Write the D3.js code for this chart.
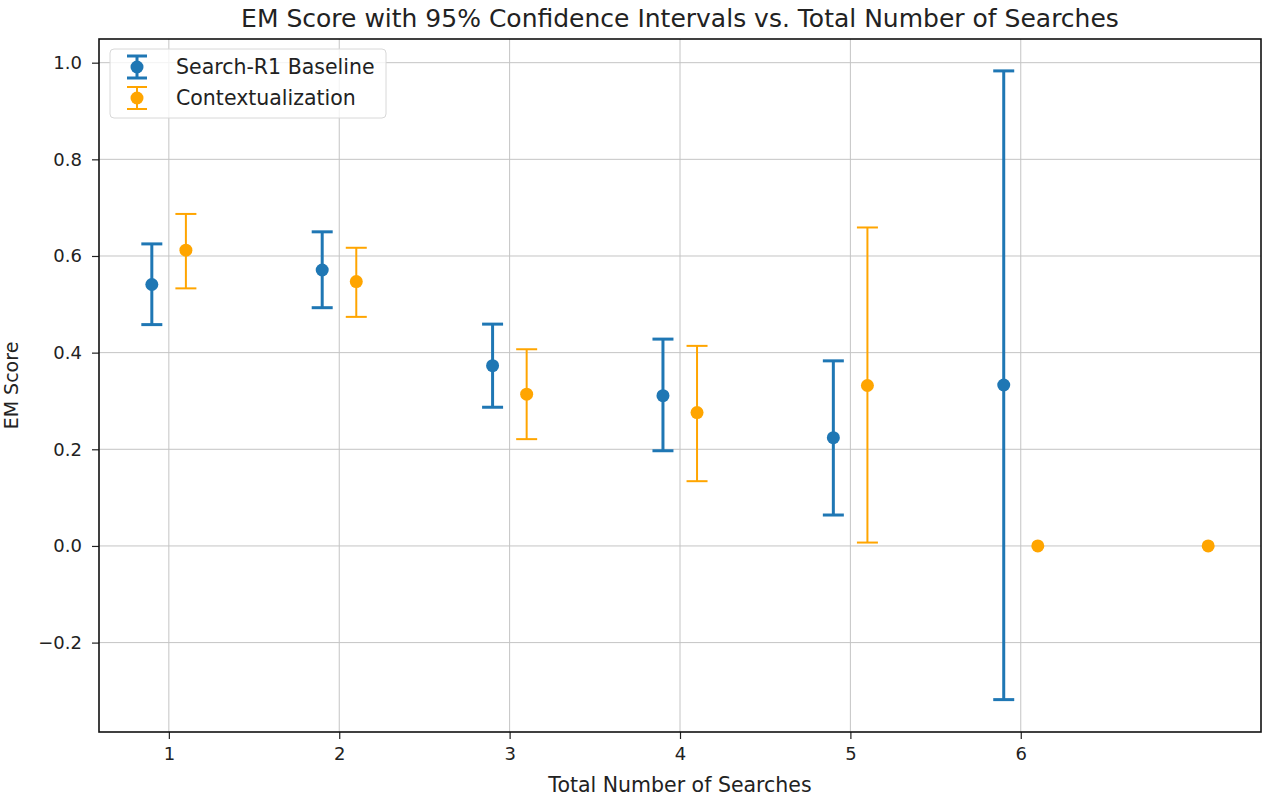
<!DOCTYPE html>
<html>
<head>
<meta charset="utf-8">
<script src="https://cdn.jsdelivr.net/npm/d3@7"></script>
<style>
  body { margin: 0; background: #fff; }
  text { font-family: "DejaVu Sans", sans-serif; fill: #222; }
</style>
</head>
<body>
<div id="chart"></div>
<script>
// data
const searches = [1, 2, 3, 4, 5, 6];
const baselineMean = [0.541, 0.571, 0.373, 0.311, 0.224, 0.333];
const baselineLow = [0.458, 0.493, 0.287, 0.197, 0.064, -0.318];
const baselineHigh = [0.625, 0.650, 0.459, 0.428, 0.383, 0.983];

const ctxSearches = [1, 2, 3, 4, 5, 6, 7];
const ctxMean = [0.612, 0.547, 0.314, 0.276, 0.332, 0.0, 0.0];
const ctxLow = [0.533, 0.474, 0.221, 0.134, 0.007, null, null];
const ctxHigh = [0.687, 0.617, 0.407, 0.414, 0.659, null, null];

const xTicks = [1, 2, 3, 4, 5, 6];
const yTicks = [-0.2, 0.0, 0.2, 0.4, 0.6, 0.8, 1.0];

function main() {
    let width = 1263;
    let height = 797;
    let left = 99, right = 1261, top = 39, bottom = 732;

    let svg = d3.select("#chart").append("svg")
        .attr("width", width)
        .attr("height", height);

    let x = d3.scaleLinear().domain([0.59, 7.41]).range([left, right]);
    let y = d3.scaleLinear().domain([-0.385, 1.049]).range([bottom, top]);

    // grid
    svg.append("g").selectAll("line.gx")
        .data(xTicks).enter().append("line")
        .attr("x1", d => x(d)).attr("x2", d => x(d))
        .attr("y1", top).attr("y2", bottom)
        .attr("stroke", "#c4c4c4").attr("stroke-width", 1);
    svg.append("g").selectAll("line.gy")
        .data(yTicks).enter().append("line")
        .attr("y1", d => y(d)).attr("y2", d => y(d))
        .attr("x1", left).attr("x2", right)
        .attr("stroke", "#c4c4c4").attr("stroke-width", 1);

    let series = [
        {name: "Search-R1 Baseline", color: "#1f77b4", off: -0.1, lw: 3,
         xs: searches, m: baselineMean, lo: baselineLow, hi: baselineHigh},
        {name: "Contextualization", color: "#ffa500", off: 0.1, lw: 2,
         xs: ctxSearches, m: ctxMean, lo: ctxLow, hi: ctxHigh}
    ];

    series.forEach(function(s) {
        let rows = s.xs.map((v, i) => ({x: v + s.off, m: s.m[i], lo: s.lo[i], hi: s.hi[i]}));
        let withCi = rows.filter(d => d.lo !== null);
        let g = svg.append("g");
        g.selectAll("line.bar").data(withCi).enter().append("line")
            .attr("x1", d => x(d.x)).attr("x2", d => x(d.x))
            .attr("y1", d => y(d.lo)).attr("y2", d => y(d.hi))
            .attr("stroke", s.color).attr("stroke-width", s.lw);
        ["lo", "hi"].forEach(function(k) {
            g.selectAll("line.cap" + k).data(withCi).enter().append("line")
                .attr("x1", d => x(d.x) - 10.5).attr("x2", d => x(d.x) + 10.5)
                .attr("y1", d => y(d[k])).attr("y2", d => y(d[k]))
                .attr("stroke", s.color).attr("stroke-width", s.lw);
        });
        g.selectAll("circle").data(rows).enter().append("circle")
            .attr("cx", d => x(d.x)).attr("cy", d => y(d.m))
            .attr("r", 6.5).attr("fill", s.color);
    });

    // axes
    let xAxis = d3.axisBottom(x).tickValues(xTicks).tickSize(7).tickPadding(8)
        .tickFormat(d3.format("d"));
    let yAxis = d3.axisLeft(y).tickValues(yTicks).tickSize(7).tickPadding(10)
        .tickFormat(d => d3.format(".1f")(d).replace("-", "\u2212"));

    let gx = svg.append("g").attr("transform", "translate(0," + bottom + ")").call(xAxis);
    let gy = svg.append("g").attr("transform", "translate(" + left + ",0)").call(yAxis);
    [gx, gy].forEach(function(g) {
        g.select(".domain").remove();
        g.selectAll(".tick line").attr("stroke", "#222").attr("stroke-width", 1.2);
        g.selectAll(".tick text").attr("font-size", 18).attr("fill", "#222")
            .attr("font-family", "DejaVu Sans");
    });

    svg.append("rect")
        .attr("x", left).attr("y", top)
        .attr("width", right - left).attr("height", bottom - top)
        .attr("fill", "none").attr("stroke", "#111").attr("stroke-width", 1.6);

    // titles
    svg.append("text").attr("x", (left + right) / 2).attr("y", 27)
        .attr("text-anchor", "middle").attr("font-size", 25)
        .text("EM Score with 95% Confidence Intervals vs. Total Number of Searches");
    svg.append("text").attr("x", (left + right) / 2).attr("y", 792)
        .attr("text-anchor", "middle").attr("font-size", 20.5)
        .text("Total Number of Searches");
    svg.append("text")
        .attr("transform", "translate(18," + ((top + bottom) / 2) + ") rotate(-90)")
        .attr("text-anchor", "middle").attr("font-size", 19)
        .text("EM Score");

    // legend
    let lg = svg.append("g");
    lg.append("rect").attr("x", 110).attr("y", 49).attr("width", 276).attr("height", 69)
        .attr("rx", 4).attr("fill", "#fff").attr("fill-opacity", 0.8)
        .attr("stroke", "#d8d8d8").attr("stroke-width", 1);
    series.forEach(function(s, i) {
        let cy = 67 + i * 31;
        lg.append("line").attr("x1", 137).attr("x2", 137)
            .attr("y1", cy - 11).attr("y2", cy + 11)
            .attr("stroke", s.color).attr("stroke-width", s.lw);
        [-11, 11].forEach(function(o) {
            lg.append("line").attr("x1", 127).attr("x2", 147)
                .attr("y1", cy + o).attr("y2", cy + o)
                .attr("stroke", s.color).attr("stroke-width", s.lw);
        });
        lg.append("circle").attr("cx", 137).attr("cy", cy).attr("r", 6.5).attr("fill", s.color);
        lg.append("text").attr("x", 176).attr("y", cy).attr("dy", "0.35em")
            .attr("font-size", 20.5).text(s.name);
    });
}

main();
</script>
</body>
</html>
